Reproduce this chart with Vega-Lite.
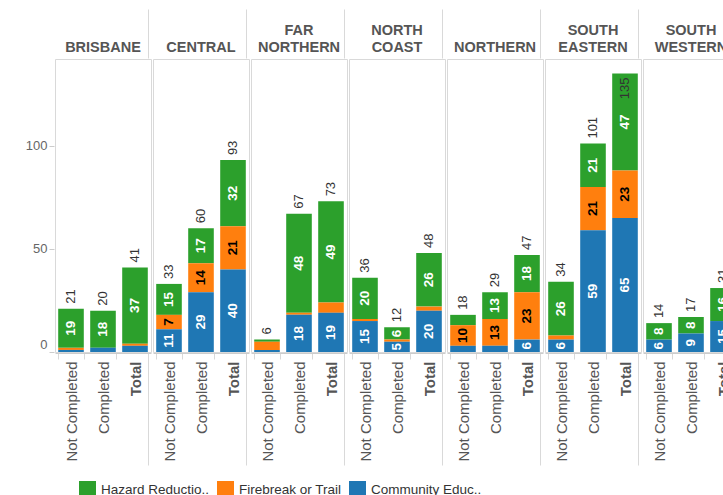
{
  "$schema": "https://vega.github.io/schema/vega-lite/v6.json",
  "autosize": {"type": "pad"},
  "padding": {"left": 25, "top": 8, "right": 0, "bottom": 0},
  "background": "white",
  "data": {
    "values": [
      {"region": "BRISBANE", "status": "Not Completed", "type": "Hazard Reduction", "value": 19},
      {"region": "BRISBANE", "status": "Not Completed", "type": "Firebreak or Trail", "value": 1},
      {"region": "BRISBANE", "status": "Not Completed", "type": "Community Education", "value": 1},
      {"region": "BRISBANE", "status": "Completed", "type": "Hazard Reduction", "value": 18},
      {"region": "BRISBANE", "status": "Completed", "type": "Firebreak or Trail", "value": 0},
      {"region": "BRISBANE", "status": "Completed", "type": "Community Education", "value": 2},
      {"region": "BRISBANE", "status": "Total", "type": "Hazard Reduction", "value": 37},
      {"region": "BRISBANE", "status": "Total", "type": "Firebreak or Trail", "value": 1},
      {"region": "BRISBANE", "status": "Total", "type": "Community Education", "value": 3},
      {"region": "CENTRAL", "status": "Not Completed", "type": "Hazard Reduction", "value": 15},
      {"region": "CENTRAL", "status": "Not Completed", "type": "Firebreak or Trail", "value": 7},
      {"region": "CENTRAL", "status": "Not Completed", "type": "Community Education", "value": 11},
      {"region": "CENTRAL", "status": "Completed", "type": "Hazard Reduction", "value": 17},
      {"region": "CENTRAL", "status": "Completed", "type": "Firebreak or Trail", "value": 14},
      {"region": "CENTRAL", "status": "Completed", "type": "Community Education", "value": 29},
      {"region": "CENTRAL", "status": "Total", "type": "Hazard Reduction", "value": 32},
      {"region": "CENTRAL", "status": "Total", "type": "Firebreak or Trail", "value": 21},
      {"region": "CENTRAL", "status": "Total", "type": "Community Education", "value": 40},
      {"region": "FAR NORTHERN", "status": "Not Completed", "type": "Hazard Reduction", "value": 1},
      {"region": "FAR NORTHERN", "status": "Not Completed", "type": "Firebreak or Trail", "value": 4},
      {"region": "FAR NORTHERN", "status": "Not Completed", "type": "Community Education", "value": 1},
      {"region": "FAR NORTHERN", "status": "Completed", "type": "Hazard Reduction", "value": 48},
      {"region": "FAR NORTHERN", "status": "Completed", "type": "Firebreak or Trail", "value": 1},
      {"region": "FAR NORTHERN", "status": "Completed", "type": "Community Education", "value": 18},
      {"region": "FAR NORTHERN", "status": "Total", "type": "Hazard Reduction", "value": 49},
      {"region": "FAR NORTHERN", "status": "Total", "type": "Firebreak or Trail", "value": 5},
      {"region": "FAR NORTHERN", "status": "Total", "type": "Community Education", "value": 19},
      {"region": "NORTH COAST", "status": "Not Completed", "type": "Hazard Reduction", "value": 20},
      {"region": "NORTH COAST", "status": "Not Completed", "type": "Firebreak or Trail", "value": 1},
      {"region": "NORTH COAST", "status": "Not Completed", "type": "Community Education", "value": 15},
      {"region": "NORTH COAST", "status": "Completed", "type": "Hazard Reduction", "value": 6},
      {"region": "NORTH COAST", "status": "Completed", "type": "Firebreak or Trail", "value": 1},
      {"region": "NORTH COAST", "status": "Completed", "type": "Community Education", "value": 5},
      {"region": "NORTH COAST", "status": "Total", "type": "Hazard Reduction", "value": 26},
      {"region": "NORTH COAST", "status": "Total", "type": "Firebreak or Trail", "value": 2},
      {"region": "NORTH COAST", "status": "Total", "type": "Community Education", "value": 20},
      {"region": "NORTHERN", "status": "Not Completed", "type": "Hazard Reduction", "value": 5},
      {"region": "NORTHERN", "status": "Not Completed", "type": "Firebreak or Trail", "value": 10},
      {"region": "NORTHERN", "status": "Not Completed", "type": "Community Education", "value": 3},
      {"region": "NORTHERN", "status": "Completed", "type": "Hazard Reduction", "value": 13},
      {"region": "NORTHERN", "status": "Completed", "type": "Firebreak or Trail", "value": 13},
      {"region": "NORTHERN", "status": "Completed", "type": "Community Education", "value": 3},
      {"region": "NORTHERN", "status": "Total", "type": "Hazard Reduction", "value": 18},
      {"region": "NORTHERN", "status": "Total", "type": "Firebreak or Trail", "value": 23},
      {"region": "NORTHERN", "status": "Total", "type": "Community Education", "value": 6},
      {"region": "SOUTH EASTERN", "status": "Not Completed", "type": "Hazard Reduction", "value": 26},
      {"region": "SOUTH EASTERN", "status": "Not Completed", "type": "Firebreak or Trail", "value": 2},
      {"region": "SOUTH EASTERN", "status": "Not Completed", "type": "Community Education", "value": 6},
      {"region": "SOUTH EASTERN", "status": "Completed", "type": "Hazard Reduction", "value": 21},
      {"region": "SOUTH EASTERN", "status": "Completed", "type": "Firebreak or Trail", "value": 21},
      {"region": "SOUTH EASTERN", "status": "Completed", "type": "Community Education", "value": 59},
      {"region": "SOUTH EASTERN", "status": "Total", "type": "Hazard Reduction", "value": 47},
      {"region": "SOUTH EASTERN", "status": "Total", "type": "Firebreak or Trail", "value": 23},
      {"region": "SOUTH EASTERN", "status": "Total", "type": "Community Education", "value": 65},
      {"region": "SOUTH WESTERN", "status": "Not Completed", "type": "Hazard Reduction", "value": 8},
      {"region": "SOUTH WESTERN", "status": "Not Completed", "type": "Firebreak or Trail", "value": 0},
      {"region": "SOUTH WESTERN", "status": "Not Completed", "type": "Community Education", "value": 6},
      {"region": "SOUTH WESTERN", "status": "Completed", "type": "Hazard Reduction", "value": 8},
      {"region": "SOUTH WESTERN", "status": "Completed", "type": "Firebreak or Trail", "value": 0},
      {"region": "SOUTH WESTERN", "status": "Completed", "type": "Community Education", "value": 9},
      {"region": "SOUTH WESTERN", "status": "Total", "type": "Hazard Reduction", "value": 16},
      {"region": "SOUTH WESTERN", "status": "Total", "type": "Firebreak or Trail", "value": 0},
      {"region": "SOUTH WESTERN", "status": "Total", "type": "Community Education", "value": 15}
    ]
  },
  "facet": {
    "column": {
      "field": "region",
      "type": "nominal",
      "sort": ["BRISBANE", "CENTRAL", "FAR NORTHERN", "NORTH COAST", "NORTHERN", "SOUTH EASTERN", "SOUTH WESTERN"],
      "title": null,
      "header": {
        "labelOrient": "top",
        "labelFontSize": 14.5,
        "labelFontWeight": "bold",
        "labelColor": "#555555",
        "labelBaseline": "bottom",
        "labelExpr": "split(datum.label, ' ')",
        "labelLineHeight": 17.5,
        "labelPadding": -61
      }
    }
  },
  "spacing": 0,
  "spec": {
    "width": 96,
    "height": 293,
    "resolve": {"axis": {"x": "independent"}},
    "layer": [
      {
        "mark": {"type": "bar"},
        "encoding": {
          "x": {
            "field": "status", "type": "nominal",
            "sort": ["Not Completed", "Completed", "Total"],
            "scale": {"paddingInner": 0.2, "paddingOuter": 0.1},
            "axis": {
              "orient": "bottom", "title": null, "labelAngle": 270,
              "labelFontSize": 15, "labelColor": "#555555",
              "labelFontWeight": {"condition": {"test": "datum.value == 'Total'", "value": "bold"}, "value": "normal"},
              "tickBand": "extent", "tickColor": "#d9d9d9",
              "tickSize": {"condition": {"test": "datum.value == 'Total'", "value": 112}, "value": 6},
              "labelPadding": {"condition": {"test": "datum.value == 'Total'", "value": -104}, "value": 2},
              "domainColor": "#cccccc"
            }
          },
          "y": {
            "field": "value", "type": "quantitative", "stack": "zero",
            "scale": {"domain": [0, 142], "nice": false},
            "axis": {
              "title": null, "values": [0, 50, 100], "grid": false, "domain": false,
              "tickColor": "#cccccc", "tickSize": 5, "labelColor": "#666666",
              "labelFontSize": 13, "labelPadding": 2,
              "labelOffset": {"condition": {"test": "datum.value == 0", "value": -8}, "value": 0}
            }
          },
          "color": {
            "field": "type", "type": "nominal",
            "scale": {
              "domain": ["Hazard Reduction", "Firebreak or Trail", "Community Education"],
              "range": ["#2ca02c", "#ff7f0e", "#1f77b4"]
            },
            "legend": {
              "title": null, "orient": "none", "legendX": 24, "legendY": 422, "direction": "horizontal",
              "symbolType": "square", "symbolSize": 289, "symbolStrokeWidth": 0,
              "labelFontSize": 13.5, "labelColor": "#333333", "labelLimit": 0,
              "labelOffset": 5, "columnPadding": 7,
              "labelExpr": "datum.label == 'Hazard Reduction' ? 'Hazard Reductio..' : datum.label == 'Community Education' ? 'Community Educ..' : datum.label"
            }
          },
          "order": {"field": "type", "sort": "ascending"}
        }
      },
      {
        "transform": [
          {"stack": "value", "groupby": ["region", "status"], "sort": [{"field": "type", "order": "ascending"}], "as": ["v0", "v1"]},
          {"fold": ["v0", "v1"], "as": ["edge", "pos"]},
          {"aggregate": [{"op": "mean", "field": "pos", "as": "mid"}], "groupby": ["region", "status", "type", "value"]},
          {"filter": "datum.value >= 6 || (datum.region == 'NORTH COAST' && datum.status == 'Completed' && datum.type == 'Community Education')"}
        ],
        "mark": {"type": "text", "angle": 270, "align": "center", "baseline": "middle", "fontSize": 13.5, "fontWeight": "bold"},
        "encoding": {
          "x": {"field": "status", "type": "nominal", "sort": ["Not Completed", "Completed", "Total"], "axis": null},
          "y": {"field": "mid", "type": "quantitative"},
          "text": {"field": "value", "type": "quantitative"},
          "color": {"condition": {"test": "datum.type == 'Firebreak or Trail'", "value": "#000000"}, "value": "#ffffff"}
        }
      },
      {
        "transform": [
          {"aggregate": [{"op": "sum", "field": "value", "as": "total"}], "groupby": ["region", "status"]},
          {"filter": "datum.total <= 130"}
        ],
        "mark": {"type": "text", "angle": 270, "align": "left", "baseline": "middle", "fontSize": 13, "dx": 5, "color": "#333333"},
        "encoding": {
          "x": {
            "field": "status", "type": "nominal", "sort": ["Not Completed", "Completed", "Total"],
            "axis": {
              "orient": "top", "labels": false, "domain": false, "title": null,
              "tickBand": "extent", "tickColor": "#d9d9d9",
              "tickSize": {"condition": {"test": "datum.value == 'Total'", "value": 49}, "value": 0}
            }
          },
          "y": {"field": "total", "type": "quantitative"},
          "text": {"field": "total", "type": "quantitative"}
        }
      },
      {
        "transform": [
          {"aggregate": [{"op": "sum", "field": "value", "as": "total"}], "groupby": ["region", "status"]},
          {"filter": "datum.total > 130"}
        ],
        "mark": {"type": "text", "angle": 270, "align": "right", "baseline": "middle", "fontSize": 13, "dx": -4, "color": "#333333"},
        "encoding": {
          "x": {"field": "status", "type": "nominal", "sort": ["Not Completed", "Completed", "Total"], "axis": null},
          "y": {"field": "total", "type": "quantitative"},
          "text": {"field": "total", "type": "quantitative"}
        }
      }
    ]
  },
  "config": {
    "font": "Liberation Sans",
    "view": {"stroke": "#d9d9d9"},
    "axis": {"labelFont": "Liberation Sans"},
    "text": {"font": "Liberation Sans"}
  }
}
